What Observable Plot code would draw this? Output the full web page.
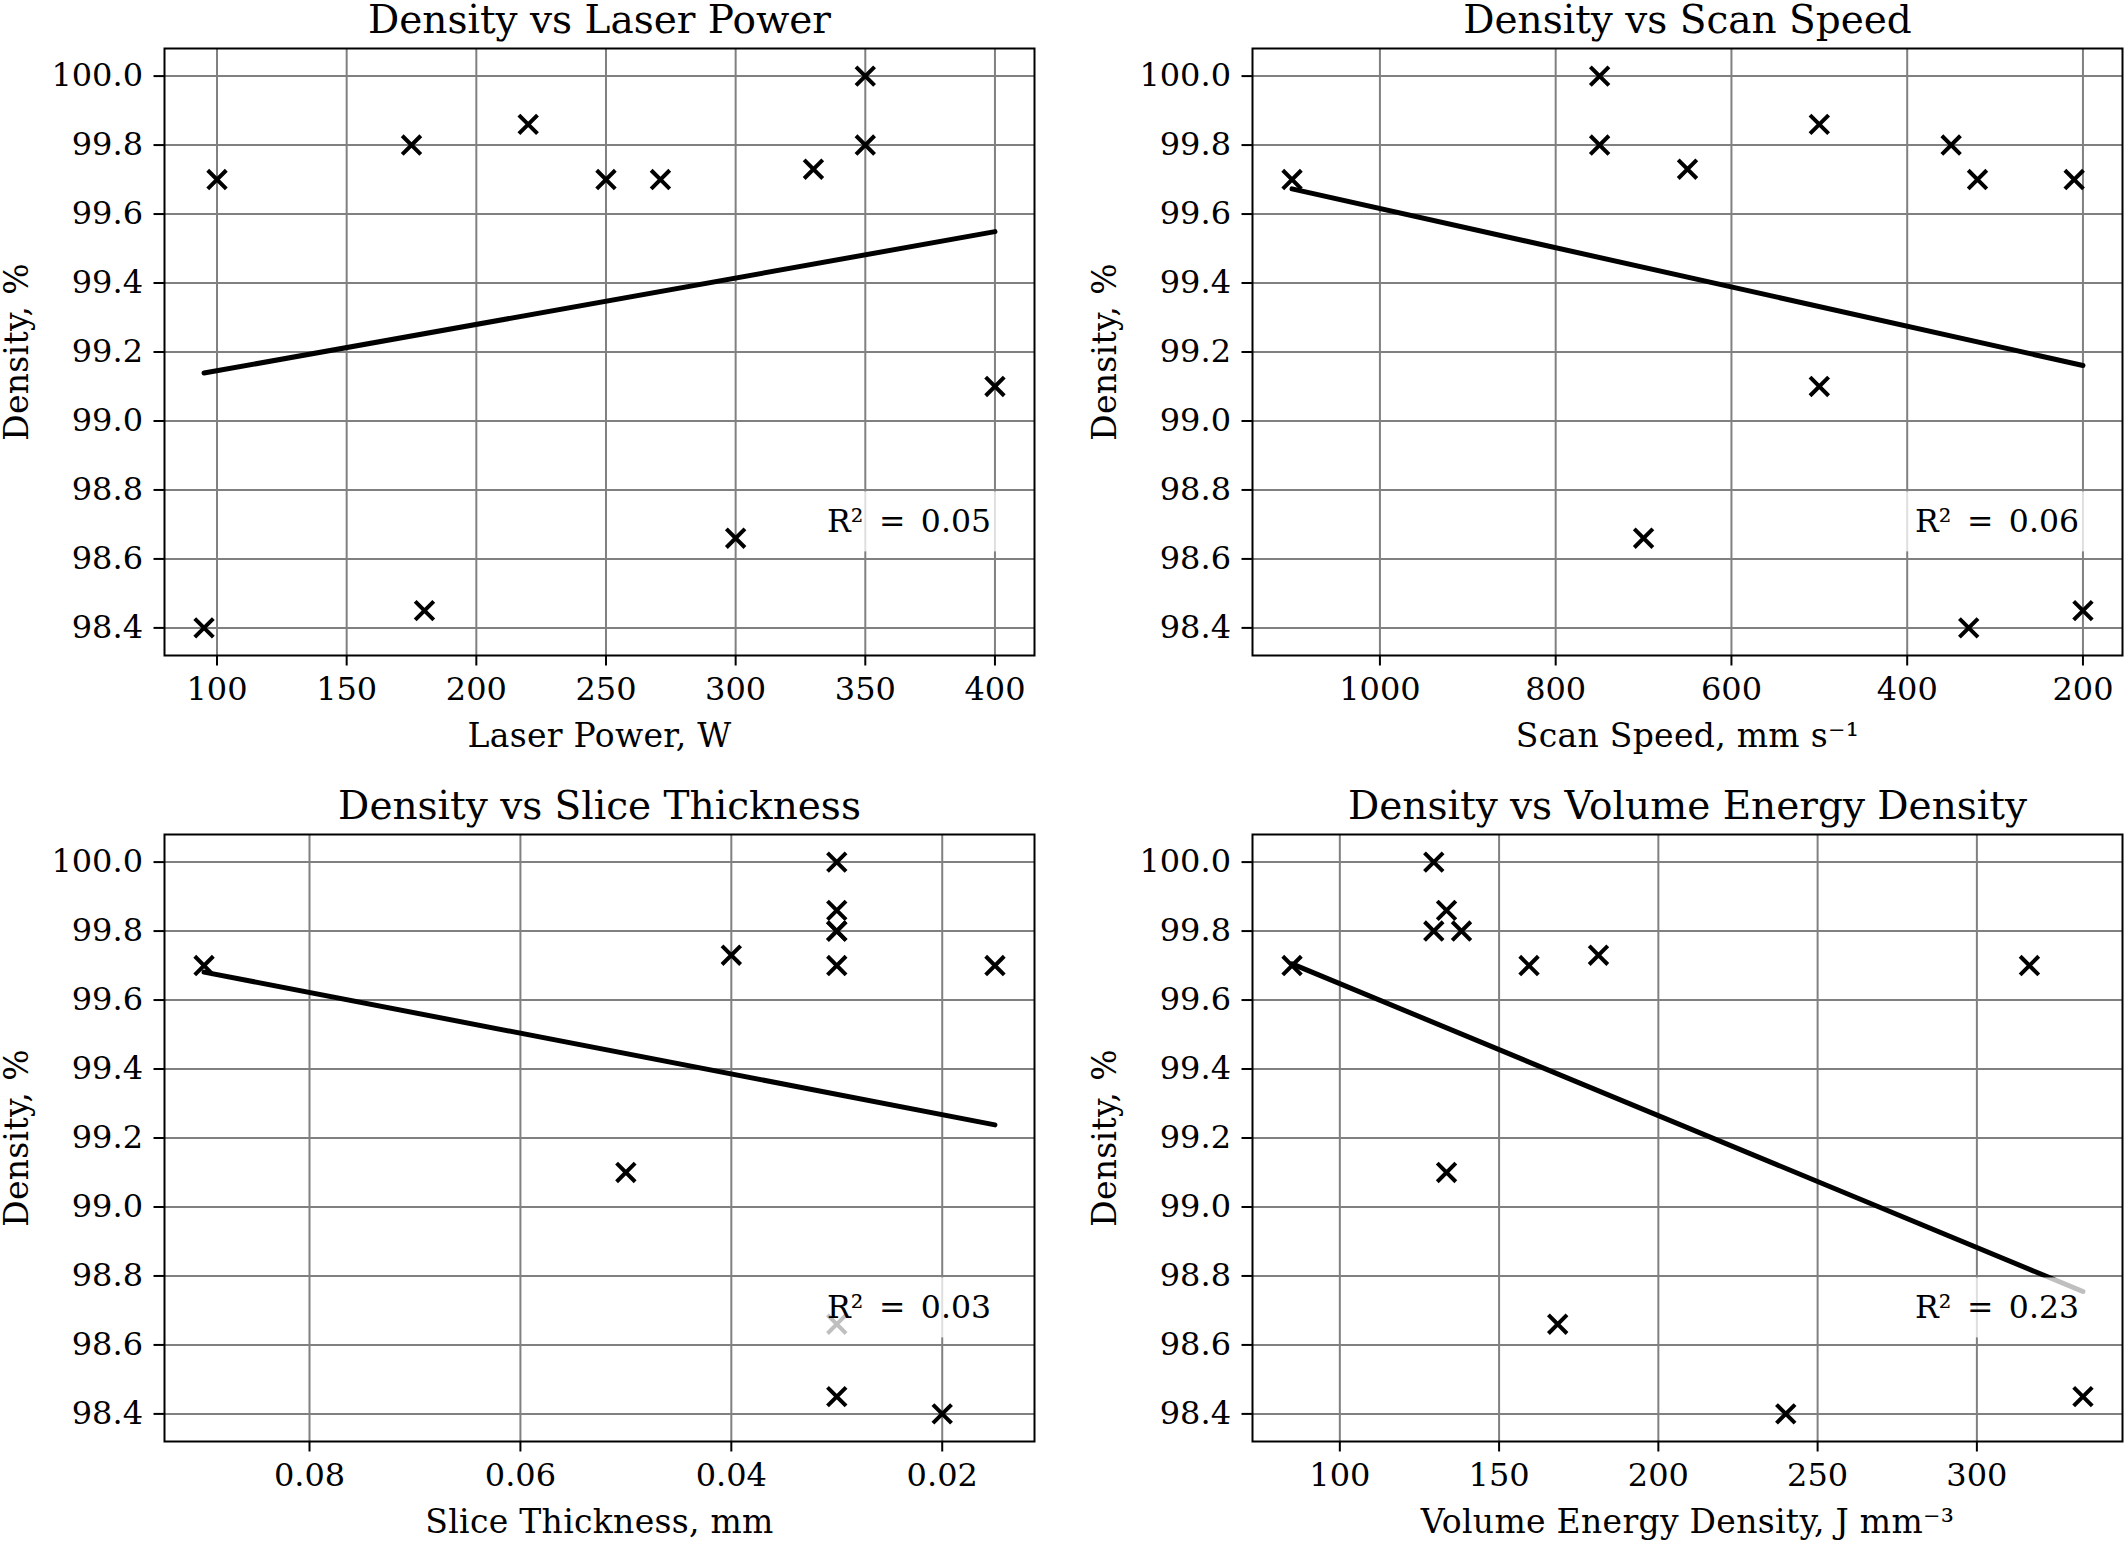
<!DOCTYPE html>
<html>
<head>
<meta charset="utf-8">
<script src="https://cdn.jsdelivr.net/npm/d3@7"></script>
<script src="https://cdn.jsdelivr.net/npm/@observablehq/plot@0.6"></script>
<style>
html, body { margin: 0; padding: 0; background: #fff; overflow: hidden; }
#root { position: relative; width: 2128px; height: 1543px; background: #fff; }
.panel { position: absolute; }
.panel svg, .panel svg text { font-family: "DejaVu Serif", serif !important; }
.panel svg g[font-size="31.5"] text { word-spacing: 5.5px; }
.panel svg g[font-size="33"] text { letter-spacing: 0.3px; }
</style>
</head>
<body>
<div id="root"></div>
<script>
// ---- data ----
const density        = [98.4, 98.45, 98.66, 99.1, 99.73, 99.86, 100.0, 99.8, 99.8, 99.7, 99.7, 99.7];
const laserPower     = [95, 180, 300, 400, 330, 220, 350, 350, 175, 271, 250, 100];
const scanSpeed      = [330, 200, 700, 500, 650, 500, 750, 750, 350, 1100, 320, 210];
const sliceThickness = [0.02, 0.03, 0.03, 0.05, 0.04, 0.03, 0.03, 0.03, 0.03, 0.09, 0.03, 0.015];
const volumeEnergy   = [240, 333.3, 168.4, 133.5, 181.2, 133.5, 129.5, 129.5, 138.2, 85, 159.4, 316.5];

// trend-line end points
const fitPowerX  = [95, 400];     const fitPowerY  = [99.139, 99.549];
const fitSpeedX  = [1100, 200];   const fitSpeedY  = [99.673, 99.161];
const fitSliceX  = [0.09, 0.015]; const fitSliceY  = [99.681, 99.238];
const fitEnergyX = [85, 333.3];   const fitEnergyY = [99.705, 98.755];

const r2Labels = ["R² = 0.05", "R² = 0.06", "R² = 0.03", "R² = 0.23"];
const titles = ["Density vs Laser Power", "Density vs Scan Speed", "Density vs Slice Thickness", "Density vs Volume Energy Density"];
const xLabels = ["Laser Power, W", "Scan Speed, mm s⁻¹", "Slice Thickness, mm", "Volume Energy Density, J mm⁻³"];
const yLabel = "Density, %";

const yTicks = [98.4, 98.6, 98.8, 99.0, 99.2, 99.4, 99.6, 99.8, 100.0];
const powerTicks = [100, 150, 200, 250, 300, 350, 400];
const speedTicks = [200, 400, 600, 800, 1000];
const sliceTicks = [0.02, 0.04, 0.06, 0.08];
const energyTicks = [100, 150, 200, 250, 300];

// ---- layout ----
const FW = 870, FH = 607, ML = 164, MT = 48;
const FONT = "DejaVu Serif";
const GRID = "#808080";
const R2SIZE = 31.5;
const LABELSIZE = 33;

const pad = ([a, b]) => { const r = b - a; return [a - 0.05 * r, b + 0.05 * r]; };

function r2Box(label) {
  return (index, scales, values, dims) => {
    const fw = dims.width - dims.marginLeft - dims.marginRight;
    const right = dims.width - dims.marginRight - 0.05 * fw;
    const base = dims.height - dims.marginBottom - 123.6;
    const ctx = document.createElement("canvas").getContext("2d");
    ctx.font = `${R2SIZE}px "${FONT}"`;
    const tw = ctx.measureText(label).width + 11;
    const rect = document.createElementNS("http://www.w3.org/2000/svg", "rect");
    rect.setAttribute("x", right - tw - 9);
    rect.setAttribute("y", base - 40);
    rect.setAttribute("width", tw + 18);
    rect.setAttribute("height", 60);
    rect.setAttribute("fill", "white");
    rect.setAttribute("fill-opacity", 0.75);
    return rect;
  };
}

function panel(cfg) {
  const rows = cfg.xs.map((x, i) => ({x, y: density[i]}));
  const fit = cfg.fitX.map((x, i) => ({x, y: cfg.fitY[i]}));
  return Plot.plot({
    width: cfg.width,
    height: cfg.height,
    marginLeft: ML,
    marginRight: cfg.width - ML - FW,
    marginTop: MT,
    marginBottom: cfg.height - MT - FH,
    style: {fontFamily: `"${FONT}", serif`, fontSize: "32px", background: "white", color: "black", overflow: "visible"},
    x: {domain: pad(d3.extent(cfg.xs)), reverse: cfg.reverse},
    y: {domain: pad(d3.extent(density))},
    marks: [
      Plot.gridX(cfg.xTicks, {stroke: GRID, strokeOpacity: 1, strokeWidth: 2}),
      Plot.gridY(yTicks, {stroke: GRID, strokeOpacity: 1, strokeWidth: 2}),
      Plot.line(fit, {x: "x", y: "y", stroke: "black", strokeWidth: 5}),
      Plot.dot(rows, {x: "x", y: "y", symbol: "times", r: 8.5, stroke: "black", strokeWidth: 4}),
      r2Box(cfg.r2),
      Plot.text([cfg.r2], {text: d => d, frameAnchor: "bottom-right", dx: -0.05 * FW, dy: -123.6,
        textAnchor: "end", lineAnchor: "bottom", fontSize: R2SIZE, fill: "black"}),
      Plot.frame({stroke: "black", strokeWidth: 2}),
      Plot.axisX(cfg.xTicks, {tickSize: 10.5, tickPadding: 11, tickFormat: cfg.fmt, label: null,
        fontSize: 32, strokeWidth: 2}),
      Plot.axisY(yTicks, {tickSize: 10.5, tickPadding: 11, tickFormat: d3.format(".1f"), label: null,
        fontSize: 32, strokeWidth: 2}),
      Plot.text([cfg.title], {text: d => d, frameAnchor: "top", dy: -16, textAnchor: "middle", lineAnchor: "bottom",
        fontSize: 39, fill: "black"}),
      Plot.text([cfg.xLabel], {text: d => d, frameAnchor: "bottom", dy: 91, textAnchor: "middle", lineAnchor: "bottom",
        fontSize: LABELSIZE, fill: "black"}),
      Plot.text([yLabel], {text: d => d, frameAnchor: "left", dx: -137, rotate: -90, textAnchor: "middle",
        lineAnchor: "bottom", fontSize: LABELSIZE, fill: "black"})
    ]
  });
}

const configs = [
  {left: 0, top: 0, width: 1088, height: 786, xs: laserPower, fitX: fitPowerX, fitY: fitPowerY,
   xTicks: powerTicks, fmt: d3.format("d"), reverse: false, r2: r2Labels[0], title: titles[0], xLabel: xLabels[0]},
  {left: 1088, top: 0, width: 1040, height: 786, xs: scanSpeed, fitX: fitSpeedX, fitY: fitSpeedY,
   xTicks: speedTicks, fmt: d3.format("d"), reverse: true, r2: r2Labels[1], title: titles[1], xLabel: xLabels[1]},
  {left: 0, top: 786, width: 1088, height: 757, xs: sliceThickness, fitX: fitSliceX, fitY: fitSliceY,
   xTicks: sliceTicks, fmt: d3.format(".2f"), reverse: true, r2: r2Labels[2], title: titles[2], xLabel: xLabels[2]},
  {left: 1088, top: 786, width: 1040, height: 757, xs: volumeEnergy, fitX: fitEnergyX, fitY: fitEnergyY,
   xTicks: energyTicks, fmt: d3.format("d"), reverse: false, r2: r2Labels[3], title: titles[3], xLabel: xLabels[3]}
];

const root = document.getElementById("root");
for (const cfg of configs) {
  const div = document.createElement("div");
  div.className = "panel";
  div.style.left = cfg.left + "px";
  div.style.top = cfg.top + "px";
  div.appendChild(panel(cfg));
  root.appendChild(div);
}
</script>
</body>
</html>
